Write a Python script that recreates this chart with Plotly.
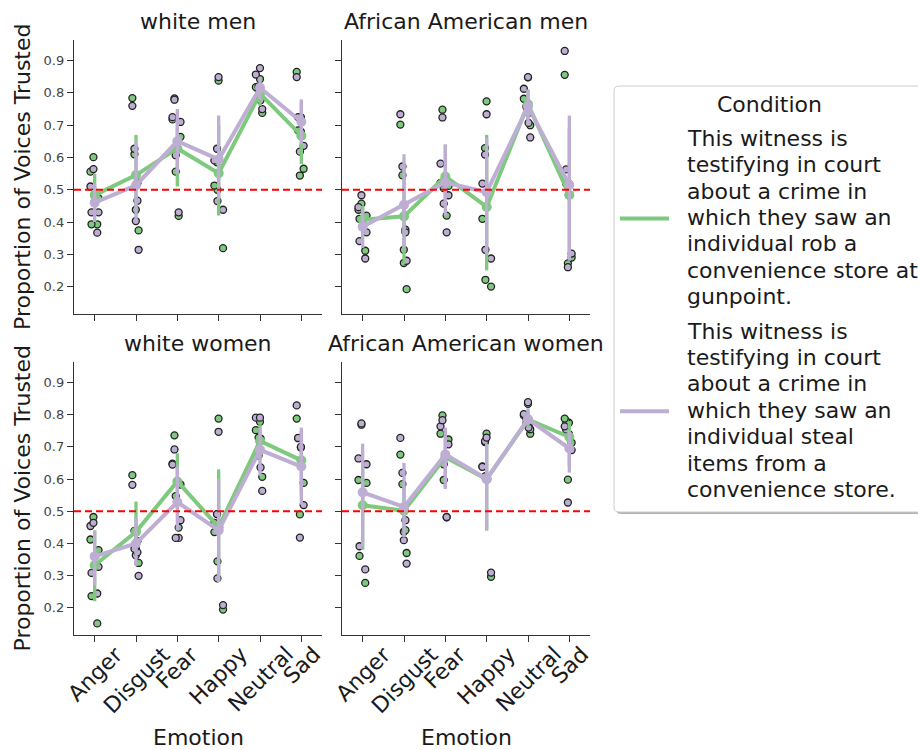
import numpy as np
import plotly.graph_objects as go

W, H = 918, 750
FONT = "DejaVu Sans"

emotions = ["Anger", "Disgust", "Fear", "Happy", "Neutral", "Sad"]
panel_titles = ["white men", "African American men", "white women", "African American women"]
legend_title = "Condition"
rob_lines = ["This witness is", "testifying in court", "about a crime in", "which they saw an",
             "individual rob a", "convenience store at", "gunpoint."]
steal_lines = ["This witness is", "testifying in court", "about a crime in", "which they saw an",
               "individual steal", "items from a", "convenience store."]
y_ticks = [0.2, 0.3, 0.4, 0.5, 0.6, 0.7, 0.8, 0.9]
reference_level = 0.5

# ---- proportion of voices trusted, 5 values per emotion (order of `emotions`) ----
wm_rob = [[0.556, 0.601, 0.474, 0.393, 0.393], [0.784, 0.610, 0.521, 0.438, 0.374],
          [0.783, 0.718, 0.664, 0.556, 0.419], [0.838, 0.585, 0.513, 0.500, 0.319],
          [0.843, 0.818, 0.808, 0.781, 0.738], [0.865, 0.684, 0.680, 0.565, 0.544]]
wm_steal = [[0.564, 0.510, 0.430, 0.430, 0.367], [0.760, 0.627, 0.466, 0.403, 0.314],
            [0.779, 0.725, 0.710, 0.607, 0.430], [0.849, 0.627, 0.591, 0.465, 0.438],
            [0.877, 0.857, 0.820, 0.777, 0.750], [0.849, 0.725, 0.725, 0.636, 0.618]]
aam_rob = [[0.457, 0.438, 0.420, 0.410, 0.311], [0.702, 0.545, 0.376, 0.273, 0.192],
           [0.748, 0.521, 0.512, 0.505, 0.420], [0.774, 0.629, 0.410, 0.221, 0.200],
           [0.848, 0.782, 0.756, 0.738, 0.700], [0.856, 0.519, 0.483, 0.290, 0.272]]
aam_steal = [[0.483, 0.446, 0.368, 0.341, 0.287], [0.734, 0.572, 0.368, 0.314, 0.280],
             [0.724, 0.581, 0.483, 0.457, 0.368], [0.734, 0.609, 0.519, 0.314, 0.287],
             [0.849, 0.813, 0.760, 0.707, 0.662], [0.930, 0.563, 0.519, 0.302, 0.260]]
ww_rob = [[0.482, 0.412, 0.379, 0.236, 0.151], [0.612, 0.439, 0.407, 0.384, 0.339],
          [0.736, 0.648, 0.583, 0.547, 0.449], [0.788, 0.491, 0.435, 0.344, 0.194],
          [0.778, 0.752, 0.729, 0.726, 0.607], [0.788, 0.727, 0.698, 0.588, 0.490]]
ww_steal = [[0.464, 0.454, 0.327, 0.308, 0.244], [0.582, 0.383, 0.372, 0.363, 0.299],
            [0.692, 0.645, 0.472, 0.417, 0.417], [0.747, 0.491, 0.464, 0.291, 0.208],
            [0.791, 0.791, 0.673, 0.636, 0.563], [0.829, 0.728, 0.700, 0.519, 0.418]]
aaw_rob = [[0.769, 0.597, 0.588, 0.361, 0.277], [0.676, 0.584, 0.441, 0.436, 0.370],
           [0.798, 0.741, 0.723, 0.597, 0.481], [0.741, 0.715, 0.639, 0.607, 0.296],
           [0.834, 0.798, 0.786, 0.767, 0.741], [0.788, 0.780, 0.775, 0.713, 0.598]]
aaw_steal = [[0.773, 0.664, 0.646, 0.391, 0.319], [0.728, 0.619, 0.472, 0.410, 0.337],
             [0.783, 0.764, 0.708, 0.646, 0.482], [0.729, 0.718, 0.638, 0.609, 0.309],
             [0.839, 0.802, 0.775, 0.760, 0.755], [0.764, 0.754, 0.740, 0.690, 0.527]]

# ---- 95% confidence intervals ----
wm_rob_lo = [0.42, 0.44, 0.51, 0.42, 0.76, 0.58]
wm_rob_hi = [0.55, 0.67, 0.73, 0.70, 0.83, 0.77]
wm_steal_lo = [0.40, 0.40, 0.55, 0.47, 0.78, 0.64]
wm_steal_hi = [0.52, 0.65, 0.75, 0.73, 0.85, 0.78]
aam_rob_lo = [0.36, 0.27, 0.45, 0.25, 0.72, 0.30]
aam_rob_hi = [0.45, 0.58, 0.64, 0.67, 0.81, 0.69]
aam_steal_lo = [0.32, 0.32, 0.42, 0.30, 0.70, 0.28]
aam_steal_hi = [0.44, 0.61, 0.64, 0.66, 0.81, 0.73]
ww_rob_lo = [0.22, 0.37, 0.51, 0.28, 0.66, 0.55]
ww_rob_hi = [0.44, 0.53, 0.68, 0.63, 0.77, 0.75]
ww_steal_lo = [0.27, 0.33, 0.44, 0.28, 0.61, 0.52]
ww_steal_hi = [0.44, 0.48, 0.64, 0.60, 0.76, 0.76]
aaw_rob_lo = [0.38, 0.42, 0.57, 0.44, 0.76, 0.64]
aaw_rob_hi = [0.65, 0.58, 0.75, 0.71, 0.81, 0.78]
aaw_steal_lo = [0.39, 0.42, 0.57, 0.44, 0.77, 0.62]
aaw_steal_hi = [0.71, 0.65, 0.76, 0.71, 0.82, 0.75]

GREEN = "#7fc97f"
PURPLE = "#beaed4"
TEXT = "#1a1a1a"
AX = "#333333"

panels = [
    (wm_rob, wm_steal, wm_rob_lo, wm_rob_hi, wm_steal_lo, wm_steal_hi),
    (aam_rob, aam_steal, aam_rob_lo, aam_rob_hi, aam_steal_lo, aam_steal_hi),
    (ww_rob, ww_steal, ww_rob_lo, ww_rob_hi, ww_steal_lo, ww_steal_hi),
    (aaw_rob, aaw_steal, aaw_rob_lo, aaw_rob_hi, aaw_steal_lo, aaw_steal_hi),
]

# pixel layout of the four axes boxes (x0, x1, ytop, ybottom)
col_px = [(74, 322), (342, 590)]
row_px = [(40, 314), (362, 635)]


def px(x):
    return x / W


def py(y):
    return 1 - y / H


fig = go.Figure()
axis_ids = ["", "2", "3", "4"]

for i, (rob, steal, rlo, rhi, slo, shi) in enumerate(panels):
    ax = axis_ids[i]
    xa, ya = "x" + ax, "y" + ax
    # point plot: means with CI error bars
    for vals, lo, hi, col in ((rob, rlo, rhi, GREEN), (steal, slo, shi, PURPLE)):
        means = np.array([np.mean(v) for v in vals])
        fig.add_trace(go.Scatter(
            x=emotions, y=means, xaxis=xa, yaxis=ya, mode="lines+markers",
            line=dict(color=col, width=4), marker=dict(color=col, size=10),
            error_y=dict(type="data", array=np.array(hi) - means,
                         arrayminus=means - np.array(lo), thickness=3.3, width=0, color=col),
            showlegend=False, hoverinfo="skip"))
    # strip plot: individual observations with jitter
    for vals, col in ((rob, GREEN), (steal, PURPLE)):
        xs = [e for e, v in zip(emotions, vals) for _ in v]
        ys = [val for v in vals for val in v]
        fig.add_trace(go.Box(
            x=xs, y=ys, xaxis=xa, yaxis=ya, boxpoints="all", jitter=1, pointpos=0,
            width=0.24, fillcolor="rgba(0,0,0,0)", line=dict(width=0, color="rgba(0,0,0,0)"),
            whiskerwidth=0,
            marker=dict(color=col, size=7, line=dict(color="#222222", width=1.3)),
            showlegend=False, hoverinfo="skip"))

layout = dict(
    width=W, height=H, margin=dict(l=0, r=0, t=0, b=0),
    paper_bgcolor="white", plot_bgcolor="white",
    font=dict(family=FONT, color=TEXT),
    boxmode="overlay", showlegend=False,
)

for i in range(4):
    ax = axis_ids[i]
    r, c = divmod(i, 2)
    x0, x1 = col_px[c]
    yt, yb = row_px[r]
    layout["xaxis" + ax] = dict(
        domain=[px(x0), px(x1)], anchor="y" + ax, type="category",
        categoryorder="array", categoryarray=emotions, range=[-0.5, 5.5],
        showline=True, linecolor=AX, linewidth=1.3, ticks="outside", ticklen=6,
        tickwidth=1.3, tickcolor=AX, showticklabels=False, showgrid=False, zeroline=False,
        fixedrange=True)
    layout["yaxis" + ax] = dict(
        domain=[py(yb), py(yt)], anchor="x" + ax, range=[0.115, 0.964],
        tickvals=y_ticks, ticktext=[f"{t:.1f}" for t in y_ticks],
        showline=True, linecolor=AX, linewidth=1.3, ticks="outside", ticklen=6,
        tickwidth=1.3, tickcolor=AX, showticklabels=(c == 0),
        tickfont=dict(size=13, color="#444444", family=FONT),
        showgrid=False, zeroline=False, fixedrange=True)

fig.update_layout(**layout)

annotations = []
shapes = []
for i in range(4):
    ax = axis_ids[i]
    r, c = divmod(i, 2)
    x0, x1 = col_px[c]
    yt, yb = row_px[r]
    cx = (x0 + x1) / 2
    # reference line
    shapes.append(dict(type="line", xref=f"x{ax} domain", yref=f"y{ax}", x0=0, x1=1,
                       y0=reference_level, y1=reference_level,
                       line=dict(color="#ff0000", width=2, dash="7px,4px"), layer="above"))
    # panel title
    annotations.append(dict(text=panel_titles[i], x=px(cx), y=py(yt - 19), xref="paper",
                            yref="paper", xanchor="center", yanchor="middle", showarrow=False,
                            font=dict(size=22, family=FONT, color=TEXT)))
    if c == 0:
        annotations.append(dict(text="Proportion of Voices Trusted", x=px(22),
                                y=py((yt + yb) / 2), xref="paper", yref="paper",
                                xanchor="center", yanchor="middle", textangle=-90,
                                showarrow=False, font=dict(size=22, family=FONT, color=TEXT)))
    if r == 1:
        annotations.append(dict(text="Emotion", x=px(cx), y=py(737), xref="paper", yref="paper",
                                xanchor="center", yanchor="middle", showarrow=False,
                                font=dict(size=22, family=FONT, color=TEXT)))
        for e in emotions:
            annotations.append(dict(text=e, x=e, xref="x" + ax, y=py(yb + 4), yref="paper",
                                    xanchor="center", yanchor="top", textangle=-45,
                                    showarrow=False, font=dict(size=22, family=FONT, color=TEXT)))

# legend (drawn by hand to match the wrapped multi-line entries)
lx0, lx1, ly0, ly1, rad = 614, 935, 86, 512, 5


def rounded(x0, y0, x1, y1, r):
    X0, X1, Y0, Y1 = px(x0), px(x1), py(y0), py(y1)
    rx, ry = r / W, r / H
    return (f"M {X0+rx},{Y0} L {X1-rx},{Y0} Q {X1},{Y0} {X1},{Y0-ry} L {X1},{Y1+ry} "
            f"Q {X1},{Y1} {X1-rx},{Y1} L {X0+rx},{Y1} Q {X0},{Y1} {X0},{Y1+ry} "
            f"L {X0},{Y0-ry} Q {X0},{Y0} {X0+rx},{Y0} Z")


shapes.append(dict(type="path", xref="paper", yref="paper",
                   path=rounded(lx0 + 2, ly0 + 2, lx1 + 2, ly1 + 2, rad),
                   fillcolor="rgba(0,0,0,0.3)", line=dict(width=0), layer="above"))
shapes.append(dict(type="path", xref="paper", yref="paper", path=rounded(lx0, ly0, lx1, ly1, rad),
                   fillcolor="white", line=dict(color="#cccccc", width=1), layer="above"))
annotations.append(dict(text=legend_title, x=px(769), y=py(104), xref="paper", yref="paper",
                        xanchor="center", yanchor="middle", showarrow=False,
                        font=dict(size=22, family=FONT, color=TEXT)))
step = 26.4
start = 138.3
for k, (lines, col) in enumerate(((rob_lines, GREEN), (steal_lines, PURPLE))):
    y_first = start + k * (step * len(rob_lines) + 8)
    for j, t in enumerate(lines):
        annotations.append(dict(text=t, x=px(685), y=py(y_first + j * step), xref="paper",
                                yref="paper", xanchor="left", yanchor="middle", showarrow=False,
                                font=dict(size=22, family=FONT, color=TEXT)))
    ymid = y_first + step * (len(lines) - 1) / 2 + 1
    shapes.append(dict(type="line", xref="paper", yref="paper", x0=px(620), x1=px(669),
                       y0=py(ymid), y1=py(ymid), line=dict(color=col, width=4), layer="above"))

fig.update_layout(annotations=annotations, shapes=shapes)
fig.write_html("out.html", config={"displayModeBar": False},
               post_script="document.body.style.margin='0px';"
                           "document.body.style.overflow='hidden';")
